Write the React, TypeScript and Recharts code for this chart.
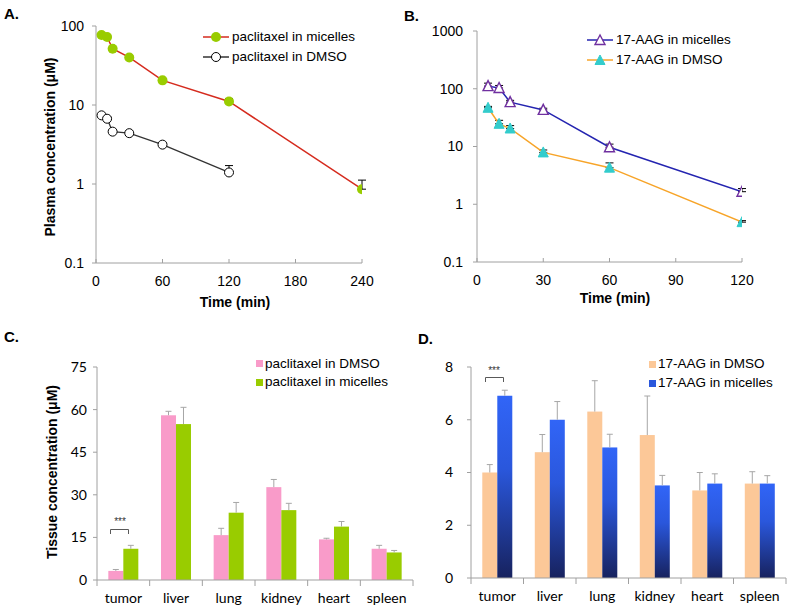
import React from 'react';
import { LineChart, Line, XAxis, YAxis, ErrorBar, BarChart, Bar } from 'recharts';

// ---------- Panel A: paclitaxel plasma ----------
const timeA = [5, 10, 15, 30, 60, 120, 240];
const paclitaxelMicellesPlasma = [76.9, 72.6, 51.6, 40, 20.5, 11.1, 0.86];
const paclitaxelMicellesPlasmaUpper = [79, 75, 53, 41.5, 21.2, 12.1, 1.12];
const paclitaxelDmsoPlasma = [7.4, 6.7, 4.6, 4.4, 3.15, 1.4];
const paclitaxelDmsoPlasmaUpper = [7.7, 7.1, 4.8, 4.6, 3.3, 1.71];
const timeTicksA = [0, 60, 120, 180, 240];
const logTicksA = [0.1, 1, 10, 100];

// ---------- Panel B: 17-AAG plasma ----------
const timeB = [5, 10, 15, 30, 60, 120];
const aagMicellesPlasma = [111, 103, 58.7, 43, 9.7, 1.65];
const aagMicellesPlasmaUpper = [125, 114, 63, 46, 11, 1.87];
const aagDmsoPlasma = [46.8, 24.7, 20.5, 7.9, 4.3, 0.49];
const aagDmsoPlasmaUpper = [49.5, 28.4, 23, 8.7, 5.2, 0.52];
const timeTicksB = [0, 30, 60, 90, 120];
const logTicksB = [0.1, 1, 10, 100, 1000];

// ---------- Panel C: paclitaxel tissue ----------
const organs = ['tumor', 'liver', 'lung', 'kidney', 'heart', 'spleen'];
const paclitaxelDmsoTissue = [3.2, 58, 15.8, 32.7, 14.3, 11];
const paclitaxelDmsoTissueUpper = [3.7, 59.4, 18.2, 35.4, 14.7, 12.2];
const paclitaxelMicellesTissue = [11, 54.9, 23.7, 24.6, 18.8, 9.7];
const paclitaxelMicellesTissueUpper = [12.2, 60.8, 27.3, 27, 20.6, 10.4];
const ticksC = [0, 15, 30, 45, 60, 75];

// ---------- Panel D: 17-AAG tissue ----------
const aagDmsoTissue = [4.0, 4.77, 6.31, 5.42, 3.32, 3.58];
const aagDmsoTissueUpper = [4.3, 5.44, 7.48, 6.9, 4.0, 4.03];
const aagMicellesTissue = [6.91, 6.0, 4.95, 3.51, 3.58, 3.58];
const aagMicellesTissueUpper = [7.12, 6.69, 5.45, 3.89, 3.95, 3.88];
const ticksD = [0, 2, 4, 6, 8];

const ARIAL = '"Liberation Sans", Arial, sans-serif';
const CAL = 'Lato, "Open Sans", sans-serif';
const AXIS = '#A0A0A0';

const C_RED = '#D52B1E';
const C_LIME = '#99CC00';
const C_NAVY = '#2424B0';
const C_PURPLE = '#7030A0';
const C_CYAN = '#33CCCC';
const C_ORANGE = '#F7A428';
const C_PINK = '#F99BC9';
const C_PEACH = '#FCC898';

const dataA = timeA.map((t, i) => ({
  t,
  mic: paclitaxelMicellesPlasma[i],
  micErr: [0, paclitaxelMicellesPlasmaUpper[i] - paclitaxelMicellesPlasma[i]],
  dmso: i < paclitaxelDmsoPlasma.length ? paclitaxelDmsoPlasma[i] : null,
  dmsoErr:
    i < paclitaxelDmsoPlasma.length
      ? [0, paclitaxelDmsoPlasmaUpper[i] - paclitaxelDmsoPlasma[i]]
      : undefined,
}));

const dataB = timeB.map((t, i) => ({
  t,
  mic: aagMicellesPlasma[i],
  micErr: [0, aagMicellesPlasmaUpper[i] - aagMicellesPlasma[i]],
  dmso: aagDmsoPlasma[i],
  dmsoErr: [0, aagDmsoPlasmaUpper[i] - aagDmsoPlasma[i]],
}));

const dataC = organs.map((o, i) => ({
  organ: o,
  dmso: paclitaxelDmsoTissue[i],
  dmsoUp: paclitaxelDmsoTissueUpper[i],
  mic: paclitaxelMicellesTissue[i],
  micUp: paclitaxelMicellesTissueUpper[i],
}));

const dataD = organs.map((o, i) => ({
  organ: o,
  dmso: aagDmsoTissue[i],
  dmsoUp: aagDmsoTissueUpper[i],
  mic: aagMicellesTissue[i],
  micUp: aagMicellesTissueUpper[i],
}));

const tickStyle = { fontSize: 14, fill: '#000', fontFamily: ARIAL };
const calTick = { fontSize: 14, fill: '#000', fontFamily: CAL };

const Triangle = (open: boolean, color: string) => (props: any) => {
  const { cx, cy, index } = props;
  if (cx == null || cy == null || isNaN(cx) || isNaN(cy)) return <g key={`t${index}`} />;
  const h = 9;
  const w = 5;
  const pts = `${cx},${cy - h / 2 - 1} ${cx - w},${cy + h / 2} ${cx + w},${cy + h / 2}`;
  return (
    <polygon
      key={`t${index}`}
      points={pts}
      fill={open ? '#fff' : color}
      stroke={color}
      strokeWidth={open ? 1.4 : 1}
    />
  );
};

const barShape = (fill: string, valKey: string, upKey: string) => (props: any) => {
  const { x, y, width, height, payload } = props;
  const v = payload[valKey];
  const up = payload[upKey];
  const k = v ? height / v : 0;
  const yTop = y - (up - v) * k;
  const cx = x + width / 2;
  return (
    <g>
      <rect x={x} y={y} width={width} height={height} fill={fill} />
      <line x1={cx} x2={cx} y1={y} y2={yTop} stroke="#A6A6A6" strokeWidth={1} />
      <line x1={cx - 3} x2={cx + 3} y1={yTop} y2={yTop} stroke="#A6A6A6" strokeWidth={1} />
    </g>
  );
};

const CatTick = (props: any) => {
  const { x, y, payload, index, visibleTicksCount } = props;
  const half = payload && payload.offset ? payload.offset : 26.3;
  const axisY = y - 13.5;
  const lines = [<line key="l" x1={x - half} x2={x - half} y1={axisY} y2={axisY + 6} stroke={AXIS} />];
  if (index === (visibleTicksCount ?? organs.length) - 1) {
    lines.push(<line key="r" x1={x + half} x2={x + half} y1={axisY} y2={axisY + 6} stroke={AXIS} />);
  }
  return (
    <g>
      {lines}
      <text x={x} y={y} dy="0.71em" textAnchor="middle" fontSize={14} fill="#000" fontFamily={CAL}>
        {payload.value}
      </text>
    </g>
  );
};

const abs = (left: number, top: number, extra: any = {}) => ({
  position: 'absolute' as const,
  left,
  top,
  ...extra,
});

const Centered = ({ x, y, children, style }: any) => (
  <div
    style={{
      position: 'absolute',
      left: x,
      top: y,
      transform: 'translate(-50%, -50%)',
      whiteSpace: 'nowrap',
      lineHeight: 1,
      ...style,
    }}
  >
    {children}
  </div>
);

const RotLabel = ({ x, y, children }: any) => (
  <div
    style={{
      position: 'absolute',
      left: x,
      top: y,
      transform: 'translate(-50%, -50%) rotate(-90deg)',
      whiteSpace: 'nowrap',
      lineHeight: 1,
      fontFamily: ARIAL,
      fontWeight: 'bold',
      fontSize: 14,
      color: '#000',
    }}
  >
    {children}
  </div>
);

const panelLetter = { fontFamily: ARIAL, fontWeight: 'bold', fontSize: 15, color: '#000', lineHeight: 1 };
const legendText = { fontFamily: ARIAL, fontSize: 13.5, color: '#000', lineHeight: 1, whiteSpace: 'nowrap' as const };

const LineLegendRow = ({ x, y, lineColor, marker, label }: any) => (
  <div style={abs(x, y - 8, { display: 'flex', alignItems: 'center', height: 16 })}>
    <svg width={28} height={16} style={{ display: 'block' }}>
      <line x1={0} x2={26} y1={8} y2={8} stroke={lineColor} strokeWidth={1.5} />
      {marker}
    </svg>
    <span style={{ ...legendText, marginLeft: 1 }}>{label}</span>
  </div>
);

const SquareLegendRow = ({ x, y, fill, label }: any) => (
  <div style={abs(x, y - 8, { display: 'flex', alignItems: 'center', height: 16 })}>
    <div style={{ width: 7, height: 7, background: fill, marginRight: 2 }} />
    <span style={legendText}>{label}</span>
  </div>
);

export default function App() {
  return (
    <div style={{ position: 'absolute', left: 0, top: 0, width: 790, height: 608, background: '#fff', overflow: 'hidden' }}>
      {/* Panel A */}
      <div style={abs(0, 0)}>
        <LineChart width={395} height={310} data={dataA} margin={{ top: 26, right: 33, bottom: 17, left: 46 }}>
          <XAxis
            dataKey="t"
            type="number"
            domain={[0, 240]}
            ticks={timeTicksA}
            allowDataOverflow
            stroke={AXIS}
            tickSize={-4}
            tickMargin={17}
            height={30}
            tick={tickStyle}
          />
          <YAxis
            type="number"
            scale="log"
            domain={[0.1, 100]}
            ticks={logTicksA}
            allowDataOverflow
            width={50}
            stroke={AXIS}
            tickSize={4}
            tickMargin={8}
            tick={tickStyle}
            tickFormatter={(v: number) => String(v)}
          />
          <Line
            dataKey="dmso"
            stroke="#333"
            strokeWidth={1.3}
            dot={{ r: 4.5, fill: '#fff', stroke: '#000', strokeWidth: 1 }}
            isAnimationActive={false}
          >
            <ErrorBar dataKey="dmsoErr" direction="y" width={4} stroke="#000" strokeWidth={1} />
          </Line>
          <Line
            dataKey="mic"
            stroke={C_RED}
            strokeWidth={1.5}
            dot={{ r: 5, fill: C_LIME, stroke: C_LIME, strokeWidth: 0 }}
            isAnimationActive={false}
          >
            <ErrorBar dataKey="micErr" direction="y" width={4} stroke="#000" strokeWidth={1} />
          </Line>
        </LineChart>
      </div>

      {/* Panel B */}
      <div style={abs(395, 0)}>
        <LineChart width={395} height={310} data={dataB} margin={{ top: 31, right: 48, bottom: 18, left: 32 }}>
          <XAxis
            dataKey="t"
            type="number"
            domain={[0, 120]}
            ticks={timeTicksB}
            allowDataOverflow
            stroke={AXIS}
            tickSize={-4}
            tickMargin={17}
            height={30}
            tick={tickStyle}
          />
          <YAxis
            type="number"
            scale="log"
            domain={[0.1, 1000]}
            ticks={logTicksB}
            allowDataOverflow
            width={50}
            stroke={AXIS}
            tickSize={4}
            tickMargin={10}
            tick={tickStyle}
            tickFormatter={(v: number) => String(v)}
          />
          <Line
            dataKey="dmso"
            stroke={C_ORANGE}
            strokeWidth={1.5}
            dot={Triangle(false, C_CYAN)}
            isAnimationActive={false}
          >
            <ErrorBar dataKey="dmsoErr" direction="y" width={4} stroke="#000" strokeWidth={1} />
          </Line>
          <Line
            dataKey="mic"
            stroke={C_NAVY}
            strokeWidth={1.5}
            dot={Triangle(true, C_PURPLE)}
            isAnimationActive={false}
          >
            <ErrorBar dataKey="micErr" direction="y" width={4} stroke="#000" strokeWidth={1} />
          </Line>
        </LineChart>
      </div>

      {/* Panel C */}
      <div style={abs(0, 310)}>
        <BarChart
          width={430}
          height={298}
          data={dataC}
          margin={{ top: 57, right: 17, bottom: 0, left: 57 }}
          barCategoryGap="21.5%"
          barGap={0}
        >
          <XAxis
            dataKey="organ"
            stroke={AXIS}
            tickLine={false}
            tickSize={5}
            tickMargin={8.5}
            height={28}
            tick={<CatTick />}
            interval={0}
          />
          <YAxis
            type="number"
            domain={[0, 75]}
            ticks={ticksC}
            width={40}
            stroke={AXIS}
            tickSize={4}
            tickMargin={6}
            tick={calTick}
          />
          <Bar dataKey="dmso" fill={C_PINK} isAnimationActive={false} shape={barShape(C_PINK, 'dmso', 'dmsoUp')} />
          <Bar dataKey="mic" fill={C_LIME} isAnimationActive={false} shape={barShape(C_LIME, 'mic', 'micUp')} />
        </BarChart>
      </div>

      {/* Panel D */}
      <div style={abs(430, 310)}>
        <BarChart
          width={360}
          height={298}
          data={dataD}
          margin={{ top: 57, right: 4, bottom: 0, left: 11 }}
          barCategoryGap="21.5%"
          barGap={0}
        >
          <defs>
            <linearGradient id="blueGrad" x1="0" y1="0" x2="0" y2="1">
              <stop offset="0%" stopColor="#3165F7" />
              <stop offset="40%" stopColor="#2A57DC" />
              <stop offset="100%" stopColor="#17225E" />
            </linearGradient>
          </defs>
          <XAxis
            dataKey="organ"
            stroke={AXIS}
            tickLine={false}
            tickSize={5}
            tickMargin={8.5}
            height={30}
            tick={<CatTick />}
            interval={0}
          />
          <YAxis
            type="number"
            domain={[0, 8]}
            ticks={ticksD}
            width={30}
            stroke={AXIS}
            tickSize={4}
            tickMargin={14}
            tick={calTick}
          />
          <Bar dataKey="dmso" fill={C_PEACH} isAnimationActive={false} shape={barShape(C_PEACH, 'dmso', 'dmsoUp')} />
          <Bar dataKey="mic" fill="url(#blueGrad)" isAnimationActive={false} shape={barShape('url(#blueGrad)', 'mic', 'micUp')} />
        </BarChart>
      </div>

      {/* Panel letters */}
      <div style={{ ...abs(4, 6), ...panelLetter }}>A.</div>
      <div style={{ ...abs(404, 8), ...panelLetter }}>B.</div>
      <div style={{ ...abs(4, 329), ...panelLetter }}>C.</div>
      <div style={{ ...abs(418, 331), ...panelLetter }}>D.</div>

      {/* Axis titles */}
      <Centered x={235} y={301.5} style={{ fontFamily: ARIAL, fontWeight: 'bold', fontSize: 14 }}>Time (min)</Centered>
      <Centered x={615} y={298} style={{ fontFamily: ARIAL, fontWeight: 'bold', fontSize: 14 }}>Time (min)</Centered>
      <RotLabel x={50} y={147}>Plasma concentration (μM)</RotLabel>
      <RotLabel x={52} y={472}>Tissue concentration (μM)</RotLabel>

      {/* Legends */}
      <LineLegendRow
        x={203}
        y={37}
        lineColor={C_RED}
        label="paclitaxel in micelles"
        marker={<circle cx={13} cy={8} r={5} fill={C_LIME} />}
      />
      <LineLegendRow
        x={203}
        y={57}
        lineColor="#333"
        label="paclitaxel in DMSO"
        marker={<circle cx={13} cy={8} r={4.5} fill="#fff" stroke="#000" />}
      />
      <LineLegendRow
        x={587}
        y={40}
        lineColor={C_NAVY}
        label="17-AAG in micelles"
        marker={<polygon points="13,3 8,12.5 18,12.5" fill="#fff" stroke={C_PURPLE} strokeWidth={1.4} />}
      />
      <LineLegendRow
        x={587}
        y={60}
        lineColor={C_ORANGE}
        label="17-AAG in DMSO"
        marker={<polygon points="13,3 8,12.5 18,12.5" fill={C_CYAN} stroke={C_CYAN} />}
      />
      <SquareLegendRow x={256} y={363.5} fill={C_PINK} label="paclitaxel in DMSO" />
      <SquareLegendRow x={256} y={382} fill={C_LIME} label="paclitaxel in micelles" />
      <SquareLegendRow x={649} y={364} fill={C_PEACH} label="17-AAG in DMSO" />
      <SquareLegendRow x={649} y={383} fill="#2A57DC" label="17-AAG in micelles" />

      {/* Significance markers */}
      <svg style={abs(0, 0)} width={790} height={608} pointerEvents="none">
        <path d="M110.5,534 V529.5 H128.5 V534" fill="none" stroke="#595959" strokeWidth={1} />
        <path d="M485.5,382 V377.5 H503.5 V382" fill="none" stroke="#595959" strokeWidth={1} />
      </svg>
      <Centered x={120} y={522} style={{ fontFamily: ARIAL, fontSize: 10, color: '#333' }}>***</Centered>
      <Centered x={494} y={371} style={{ fontFamily: ARIAL, fontSize: 10, color: '#333' }}>***</Centered>
    </div>
  );
}
